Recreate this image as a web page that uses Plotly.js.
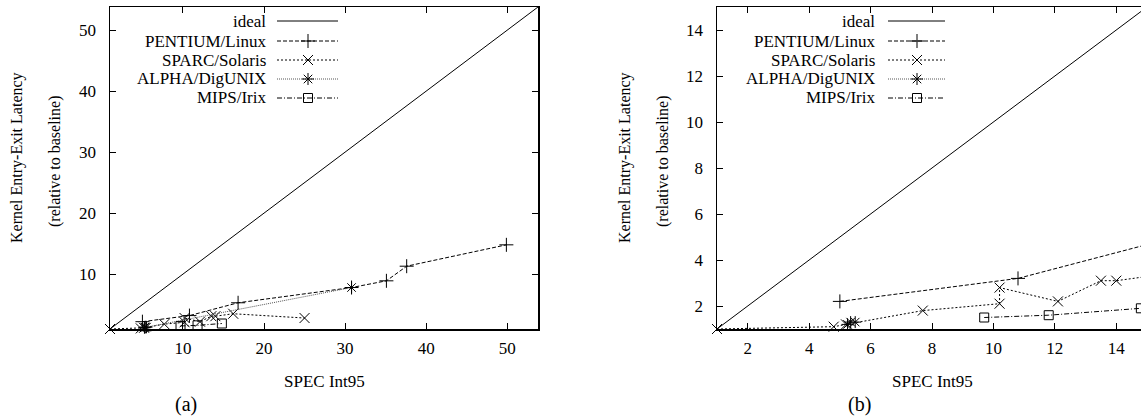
<!DOCTYPE html>
<html>
<head>
<meta charset="utf-8">
<script src="https://cdn.plot.ly/plotly-3.0.1.min.js"></script>
<style>
html,body{margin:0;padding:0;overflow:hidden;background:#fff;}
#chart{width:1150px;height:417px;}
</style>
</head>
<body>
<div id="chart"></div>
<script>
// ---- data ----
const idealX = [1, 60];
const idealY = [1, 60];
const pentiumX = [5.0, 10.8, 16.8, 30.8, 35.1, 37.6, 49.9];
const pentiumY = [2.2, 3.2, 5.3, 7.8, 8.9, 11.3, 14.8];
const sparcX = [1, 4.8, 5.2, 7.7, 10.2, 10.2, 12.1, 13.5, 14.0, 16.2, 25.0];
const sparcY = [1, 1.1, 1.2, 1.8, 2.1, 2.8, 2.2, 3.1, 3.1, 3.5, 2.8];
const alphaX = [5.25, 5.35, 5.5, 30.8];
const alphaY = [1.2, 1.3, 1.3, 7.8];
const mipsX = [9.7, 11.8, 14.8];
const mipsY = [1.5, 1.6, 1.9];
const seriesNames = ["ideal", "PENTIUM/Linux", "SPARC/Solaris", "ALPHA/DigUNIX", "MIPS/Irix"];
const leftTicks = [10, 20, 30, 40, 50];
const rightTicks = [2, 4, 6, 8, 10, 12, 14];
const yTitle1 = "Kernel Entry-Exit Latency";
const yTitle2 = "(relative to baseline)";
const xTitle = "SPEC Int95";
const panelLabels = ["(a)", "(b)"];

// ---- styles ----
const W = 1150, H = 417;
const FONT = "Liberation Serif";
const mk = (symbol, size) => ({symbol: symbol, size: size, color: "#000", line: {width: 1, color: "#000"}});
const styles = [
  {line: {color: "#000", width: 1, dash: "solid"}, marker: null},
  {line: {color: "#000", width: 1, dash: "4px,2px"}, marker: mk("cross-thin-open", 10)},
  {line: {color: "#000", width: 1, dash: "2px,2px"}, marker: mk("x-thin-open", 10)},
  {line: {color: "#555", width: 1, dash: "1px,1px"}, marker: mk("asterisk-open", 10)},
  {line: {color: "#000", width: 1, dash: "5px,2px,1px,2px"}, marker: mk("square-open", 9)}
];
const seriesX = [idealX, pentiumX, sparcX, alphaX, mipsX];
const seriesY = [idealY, pentiumY, sparcY, alphaY, mipsY];

const traces = [];
["x", "x2"].forEach((xa, pi) => {
  const ya = pi === 0 ? "y" : "y2";
  seriesX.forEach((xs, i) => {
    let mode = styles[i].marker ? "lines+markers" : "lines";
    if (pi === 1 && i === 3) mode = "markers"; // line not visible in panel (b) of the reference
    const t = {
      x: xs, y: seriesY[i], xaxis: xa, yaxis: ya, mode: mode,
      line: styles[i].line, showlegend: false, hoverinfo: "skip",
      cliponaxis: false
    };
    if (styles[i].marker) t.marker = styles[i].marker;
    traces.push(t);
  });
});

// manual gnuplot-style legends (text right, sample on the right), pixel coordinates on an overlay axis
const legendRows = [21, 41, 60, 79, 98];
const legendDefs = [
  {textEnd: 268, x0: 277, x1: 338, xm: 308},
  {textEnd: 877, x0: 888, x1: 945, xm: 917}
];
const annotations = [];
legendDefs.forEach(ld => {
  seriesNames.forEach((nm, i) => {
    const yy = legendRows[i];
    annotations.push({
      text: nm, xref: "paper", yref: "paper", x: ld.textEnd / W, y: 1 - yy / H,
      xanchor: "right", yanchor: "middle", showarrow: false,
      font: {family: FONT, size: 17, color: "#000"}
    });
    traces.push({x: [ld.x0, ld.x1], y: [yy, yy], xaxis: "x3", yaxis: "y3", mode: "lines",
      line: styles[i].line, showlegend: false, hoverinfo: "skip"});
    if (styles[i].marker) {
      traces.push({x: [ld.xm], y: [yy], xaxis: "x3", yaxis: "y3", mode: "markers",
        marker: styles[i].marker, showlegend: false, hoverinfo: "skip"});
    }
  });
});

function ann(text, px, py, size, angle) {
  annotations.push({
    text: text, xref: "paper", yref: "paper", x: px / W, y: 1 - py / H,
    xanchor: "center", yanchor: "middle", showarrow: false, textangle: angle || 0,
    font: {family: FONT, size: size, color: "#000"}
  });
}
ann(yTitle1, 17, 158, 16, -90);
ann(yTitle2, 55, 161, 16, -90);
ann(yTitle1, 625, 158, 16, -90);
ann(yTitle2, 663, 161, 16, -90);
ann(xTitle, 324, 381, 17);
ann(xTitle, 932, 381, 17);
ann(panelLabels[0], 186, 404, 20);
ann(panelLabels[1], 859, 404, 20);

const axBase = {
  showline: true, linecolor: "#000", linewidth: 1.5, mirror: "ticks",
  ticks: "inside", ticklen: 6, tickwidth: 1, tickcolor: "#000",
  showgrid: false, zeroline: false, tickmode: "array",
  tickfont: {family: FONT, size: 17, color: "#000"}, fixedrange: true
};
const ydom = [88 / H, 410 / H];

const layout = {
  width: W, height: H,
  font: {family: FONT, size: 17, color: "#000"},
  margin: {l: 0, r: 0, t: 0, b: 0, pad: 0},
  paper_bgcolor: "#fff", plot_bgcolor: "rgba(0,0,0,0)",
  showlegend: false,
  xaxis: Object.assign({}, axBase, {domain: [110 / W, 538 / W], range: [1, 53.8], tickvals: leftTicks, anchor: "y", ticklabelstandoff: 3}),
  yaxis: Object.assign({}, axBase, {domain: ydom, range: [1, 53.8], tickvals: leftTicks, anchor: "x", ticklabelstandoff: 9}),
  xaxis2: Object.assign({}, axBase, {domain: [717 / W, 1147 / W], range: [1, 15], tickvals: rightTicks, anchor: "y2", ticklabelstandoff: 3}),
  yaxis2: Object.assign({}, axBase, {domain: ydom, range: [1, 15], tickvals: rightTicks, anchor: "x2", ticklabelstandoff: 9}),
  xaxis3: {domain: [0, 1], range: [0, W], visible: false, fixedrange: true, anchor: "y3"},
  yaxis3: {domain: [0, 1], range: [H, 0], visible: false, fixedrange: true, anchor: "x3"},
  annotations: annotations
};

Plotly.newPlot("chart", traces, layout, {staticPlot: true, displayModeBar: false});
</script>
</body>
</html>
